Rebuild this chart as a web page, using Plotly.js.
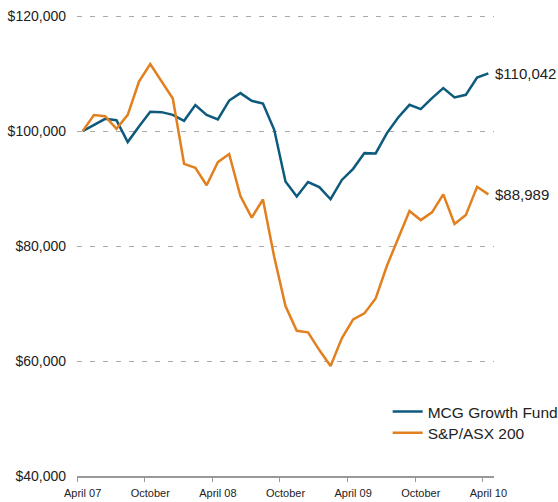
<!DOCTYPE html>
<html>
<head>
<meta charset="utf-8">
<script src="https://cdn.plot.ly/plotly-3.0.1.min.js"></script>
<style>html,body{margin:0;padding:0;background:#fff;}#chart{width:558px;height:502px;}</style>
</head>
<body>
<div id="chart"></div>
<script>
// Monthly index: 0 = April 07 ... 36 = April 10
var months = [];
for (var i = 0; i < 37; i++) months.push(i);

var mcgValues = [100000, 101040, 102140, 101900, 98090, 100800, 103360, 103300, 102830, 101790,
  104520, 102830, 102050, 105320, 106610, 105270, 104800, 100230, 91240, 88630,
  91130, 90260, 88150, 91500, 93440, 96170, 96110, 99650, 102370, 104570,
  103820, 105740, 107480, 105850, 106310, 109320, 110042];

var asxValues = [100000, 102780, 102600, 100400, 102830, 108630, 111650, 108570, 105670, 94310,
  93620, 90580, 94600, 96020, 88700, 84950, 88100, 78090, 69570, 65270,
  65000, 61910, 59130, 63950, 67250, 68290, 70900, 76580, 81480, 86090,
  84520, 85860, 88990, 83830, 85390, 90310, 88989];

var seriesNames = ["MCG Growth Fund", "S&P/ASX 200"];
var tickLabelPositions = [0, 6, 12, 18, 24, 30, 36];
var tickLabels = ["April 07", "October", "April 08", "October", "April 09", "October", "April 10"];
var tickMarkPositions = [-0.5, 5.5, 11.5, 17.5, 23.5, 29.5, 35.5];
var yTickVals = [40000, 60000, 80000, 100000, 120000];
var yTickText = ["$40,000", "$60,000", "$80,000", "$100,000", "$120,000"];

var blue = "#0d5a7d";
var orange = "#e27f1e";

function fmt(v) { return "$" + v.toLocaleString("en-US"); }

var traces = [
  {x: months, y: mcgValues, name: seriesNames[0], type: "scatter", mode: "lines",
   line: {color: blue, width: 2.5}, legend: "legend"},
  {x: months, y: asxValues, name: seriesNames[1], type: "scatter", mode: "lines",
   line: {color: orange, width: 2.5}, legend: "legend2"}
];

var legendFont = {size: 15.5, color: "#222"};
var last = months.length - 1;
var layout = {
  width: 558, height: 502,
  margin: {l: 77, r: 64, t: 15, b: 26, autoexpand: false},
  paper_bgcolor: "#fff", plot_bgcolor: "#fff",
  font: {family: "Liberation Sans, Arial, sans-serif", color: "#222"},
  showlegend: true,
  legend: {x: 0.745, y: 0.139, xanchor: "left", yanchor: "middle",
    font: legendFont, bgcolor: "rgba(0,0,0,0)", borderwidth: 0},
  legend2: {x: 0.745, y: 0.093, xanchor: "left", yanchor: "middle",
    font: legendFont, bgcolor: "rgba(0,0,0,0)", borderwidth: 0},
  xaxis: {
    range: [-0.5, 36.5], tickmode: "array", tickvals: tickLabelPositions, ticktext: tickLabels,
    ticks: "", showgrid: false, zeroline: false, showline: true, linecolor: "#999", linewidth: 2,
    tickfont: {size: 11, color: "#222"}, ticklabelstandoff: 6,
    minor: {tickmode: "array", tickvals: tickMarkPositions, ticks: "outside", ticklen: 4,
      tickcolor: "#999", tickwidth: 1, showgrid: false},
    fixedrange: true
  },
  yaxis: {
    range: [40000, 120200], tickmode: "array", tickvals: yTickVals, ticktext: yTickText,
    showgrid: true, gridcolor: "#aaaaaa", griddash: "5px,8px", gridwidth: 1,
    zeroline: false, showline: false, ticks: "", tickfont: {size: 14, color: "#222"},
    ticklabelstandoff: 10, fixedrange: true
  },
  annotations: [
    {x: months[last], y: mcgValues[last], text: fmt(mcgValues[last]), showarrow: false,
     xanchor: "left", yanchor: "middle", xshift: 5, font: {size: 15, color: "#222"}},
    {x: months[last], y: asxValues[last], text: fmt(asxValues[last]), showarrow: false,
     xanchor: "left", yanchor: "middle", xshift: 5, font: {size: 15, color: "#222"}}
  ]
};

Plotly.newPlot("chart", traces, layout, {displayModeBar: false, staticPlot: true});
</script>
</body>
</html>
